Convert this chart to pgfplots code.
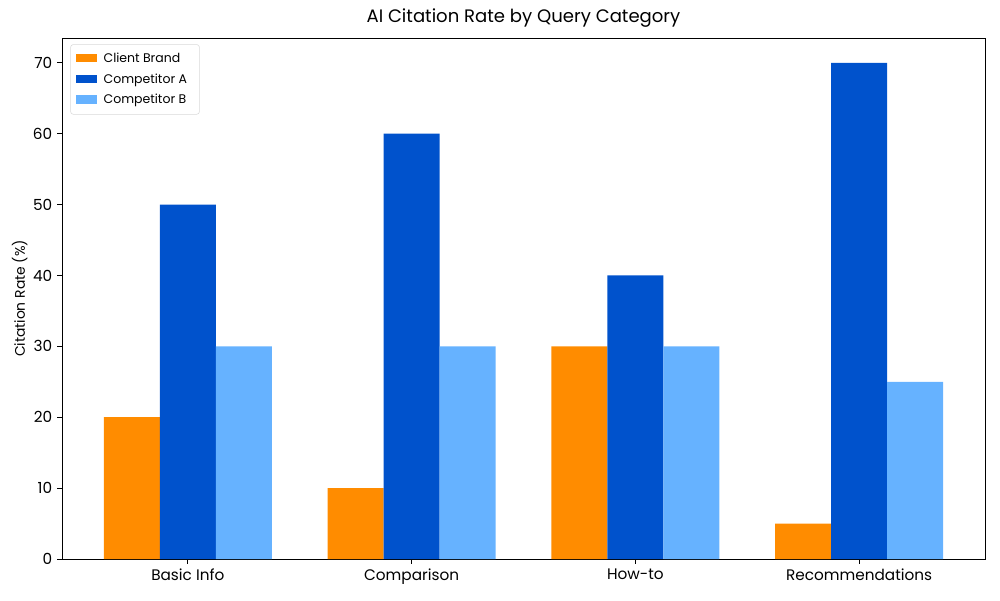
\documentclass[border=0pt]{standalone}
\usepackage{pgfplots}
\pgfplotsset{compat=1.18}
\usepackage{fontspec}
\setmainfont{Poppins}
\definecolor{cClient}{HTML}{FF8C00}
\definecolor{cA}{HTML}{0052CC}
\definecolor{cB}{HTML}{66B2FF}
\begin{document}
\begin{tikzpicture}
\useasboundingbox (-44.64pt,-29.52pt) rectangle (675.36pt,402.48pt);
\begin{axis}[
  at={(0,0)}, anchor=south west,
  width=664.56pt, height=375.12pt, scale only axis,
  xmin=-0.5625, xmax=3.5625, ymin=0, ymax=73.5,
  ybar=0pt, bar width=0.25,
  xtick={0,1,2,3},
  xticklabels={Basic Info,Comparison,How-to,Recommendations},
  ytick={0,10,20,30,40,50,60,70},
  tick align=outside, tick pos=left,
  major tick length=3.5pt,
  tick style={black, line width=0.6pt},
  axis line style={line width=0.6pt},
  tick label style={font=\fontsize{11}{13}\selectfont},
  /pgf/number format/assume math mode=true,
  ylabel={Citation Rate (\%)},
  ylabel style={font=\fontsize{10}{12}\selectfont, yshift=-3pt},
  title={AI Citation Rate by Query Category},
  title style={font=\fontsize{13}{15}\selectfont, yshift=-2pt},
  legend style={at={(0.009,0.988)}, anchor=north west, draw=black!15, rounded corners=2pt,
    font=\fontsize{9}{11}\selectfont, row sep=2.6pt, inner xsep=4pt, inner ysep=4pt,
    nodes={inner xsep=5pt}},
  legend cell align=left,
  legend image code/.code={\draw[#1, draw=none, sharp corners] (0cm,-0.09cm) rectangle (0.52cm,0.12cm);},
  every axis plot/.append style={draw=none},
]
\addplot[fill=cClient] coordinates {(0,20) (1,10) (2,30) (3,5)};
\addplot[fill=cA] coordinates {(0,50) (1,60) (2,40) (3,70)};
\addplot[fill=cB] coordinates {(0,30) (1,30) (2,30) (3,25)};
\legend{Client Brand, Competitor A, Competitor B}
\end{axis}
\end{tikzpicture}
\end{document}
